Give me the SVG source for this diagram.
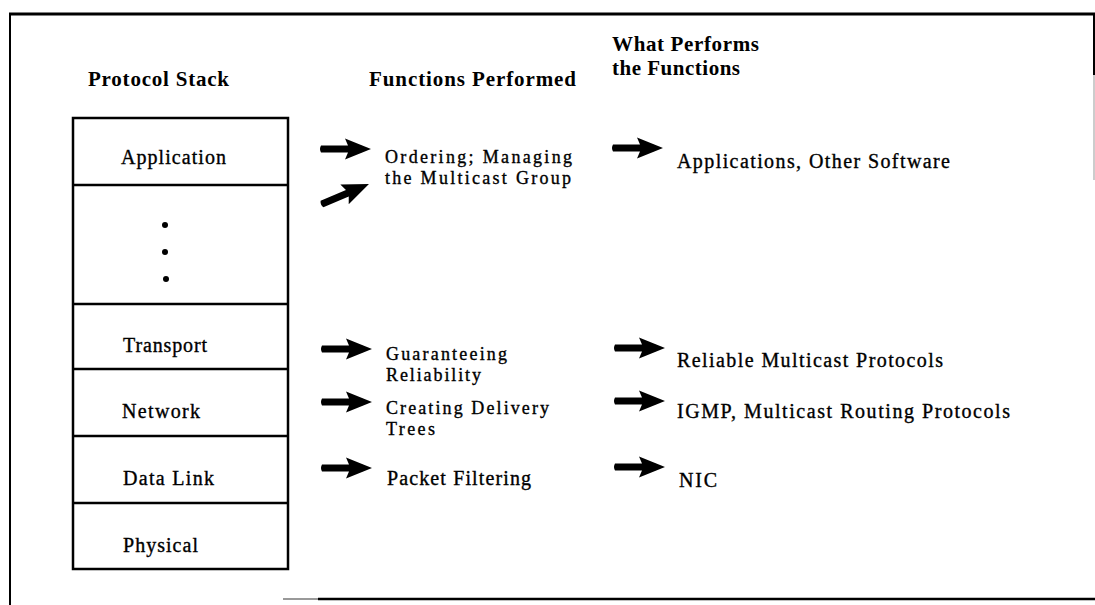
<svg xmlns="http://www.w3.org/2000/svg" xmlns:xlink="http://www.w3.org/1999/xlink" width="1095" height="605" viewBox="0 0 1095 605">
<style>
.t{font-family:"Liberation Serif","Times New Roman",serif;font-size:20px;fill:#000;stroke:#000;stroke-width:0.35}
.t2{font-family:"Liberation Serif","Times New Roman",serif;font-size:18px;fill:#000;stroke:#000;stroke-width:0.35}
.h{font-family:"Liberation Serif","Times New Roman",serif;font-size:21px;font-weight:bold;fill:#000}
.ln{stroke:#000;fill:none}
.box{fill:#fff;stroke:#000;stroke-width:2.5}
</style>
<defs>
<path id="arr" d="M0,-3.5 L27,-3.5 L24,-10.5 L50,0 L24,10.5 L27,3.5 L0,3.5 Q-2,0 0,-3.5 Z" fill="#000"/>
</defs>
<rect width="1095" height="605" fill="#fff"/>
<g id="frame">
<line class="ln" x1="9" y1="14" x2="1095" y2="14" stroke-width="3"/>
<line class="ln" x1="10" y1="13" x2="10" y2="605" stroke-width="2"/>
<line class="ln" x1="1094" y1="13" x2="1094" y2="75" stroke-width="2"/>
<line x1="1094" y1="75" x2="1094" y2="180" stroke="#bbb" stroke-width="1.5"/>
<line x1="283" y1="599" x2="318" y2="599" stroke="#999" stroke-width="2"/>
<line class="ln" x1="318" y1="599" x2="1095" y2="599" stroke-width="2.5"/>
</g>
<g id="headers">
<text class="h" x="88" y="86" textLength="141">Protocol Stack</text>
<text class="h" x="369" y="86" textLength="207">Functions Performed</text>
<text class="h" x="612" y="51" textLength="147">What Performs</text>
<text class="h" x="612" y="75" textLength="128">the Functions</text>
</g>
<g id="stack">
<rect class="box" x="73" y="118" width="215" height="451"/>
<g id="layer-application"><text class="t" x="121" y="164" textLength="105">Application</text></g>
<line class="ln" x1="73" y1="185" x2="288" y2="185" stroke-width="2.5"/>
<g id="layer-dots">
<circle cx="165" cy="225" r="3"/>
<circle cx="165" cy="252" r="3"/>
<circle cx="166" cy="279" r="3"/>
</g>
<line class="ln" x1="73" y1="304" x2="288" y2="304" stroke-width="2.5"/>
<g id="layer-transport"><text class="t" x="123" y="352" textLength="84">Transport</text></g>
<line class="ln" x1="73" y1="369" x2="288" y2="369" stroke-width="2.5"/>
<g id="layer-network"><text class="t" x="122" y="418" textLength="78">Network</text></g>
<line class="ln" x1="73" y1="436" x2="288" y2="436" stroke-width="2.5"/>
<g id="layer-datalink"><text class="t" x="123" y="485" textLength="91">Data Link</text></g>
<line class="ln" x1="73" y1="503" x2="288" y2="503" stroke-width="2.5"/>
<g id="layer-physical"><text class="t" x="123" y="552" textLength="75">Physical</text></g>
</g>
<g id="connectors">
<use xlink:href="#arr" transform="translate(321,149)"/>
<use xlink:href="#arr" transform="translate(322,204) rotate(-23) scale(1.02)"/>
<use xlink:href="#arr" transform="translate(613,148)"/>
<use xlink:href="#arr" transform="translate(322,349)"/>
<use xlink:href="#arr" transform="translate(615,348)"/>
<use xlink:href="#arr" transform="translate(322,402)"/>
<use xlink:href="#arr" transform="translate(615,401)"/>
<use xlink:href="#arr" transform="translate(322,468)"/>
<use xlink:href="#arr" transform="translate(615,467)"/>
</g>
<g id="func-ordering">
<text class="t2" x="385" y="163" textLength="187">Ordering; Managing</text>
<text class="t2" x="385" y="184" textLength="186">the Multicast Group</text>
</g>
<g id="func-reliability">
<text class="t2" x="386" y="360" textLength="121">Guaranteeing</text>
<text class="t2" x="386" y="381" textLength="95">Reliability</text>
</g>
<g id="func-trees">
<text class="t2" x="386" y="414" textLength="163">Creating Delivery</text>
<text class="t2" x="386" y="435" textLength="49">Trees</text>
</g>
<g id="func-filtering">
<text class="t" x="387" y="485" textLength="144">Packet Filtering</text>
</g>
<g id="perf-apps"><text class="t" x="677" y="168" textLength="273">Applications, Other Software</text></g>
<g id="perf-rmp"><text class="t" x="677" y="367" textLength="266">Reliable Multicast Protocols</text></g>
<g id="perf-igmp"><text class="t" x="677" y="418" textLength="333">IGMP, Multicast Routing Protocols</text></g>
<g id="perf-nic"><text class="t" x="679" y="487" textLength="38">NIC</text></g>
</svg>
